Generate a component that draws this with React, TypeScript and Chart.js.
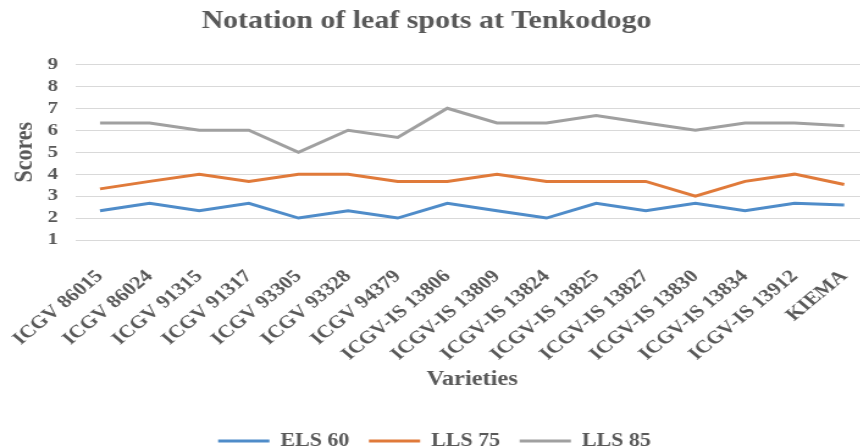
import React, { useEffect, useRef } from "react";
import { Chart, registerables } from "chart.js";

Chart.register(...registerables);

const categories = [
  "ICGV 86015",
  "ICGV 86024",
  "ICGV 91315",
  "ICGV 91317",
  "ICGV 93305",
  "ICGV 93328",
  "ICGV 94379",
  "ICGV-IS 13806",
  "ICGV-IS 13809",
  "ICGV-IS 13824",
  "ICGV-IS 13825",
  "ICGV-IS 13827",
  "ICGV-IS 13830",
  "ICGV-IS 13834",
  "ICGV-IS 13912",
  "KIEMA",
];

const els60 = [2.33, 2.67, 2.33, 2.67, 2, 2.33, 2, 2.67, 2.33, 2, 2.67, 2.33, 2.67, 2.33, 2.67, 2.6];
const lls75 = [3.33, 3.67, 4, 3.67, 4, 4, 3.67, 3.67, 4, 3.67, 3.67, 3.67, 3, 3.67, 4, 3.53];
const lls85 = [6.33, 6.33, 6, 6, 5, 6, 5.67, 7, 6.33, 6.33, 6.67, 6.33, 6, 6.33, 6.33, 6.2];

const seriesNames = ["ELS 60", "LLS 75", "LLS 85"];
const seriesColors = ["#4F8CC9", "#E07A3A", "#A0A0A0"];

const titleText = "Notation of leaf spots at Tenkodogo";
const yTitle = "Scores";
const xTitle = "Varieties";
const yMin = 1;
const yMax = 9;
const yStep = 1;

const STRETCH = 1.22;
const LOGICAL_W = 712;
const LOGICAL_H = 448;
const FONT = '"Liberation Serif", "Times New Roman", serif';
const TEXT = "#595959";

const titleShift = {
  id: "titleShift",
  afterLayout(chart: any) {
    const t = chart.titleBlock;
    if (t) {
      t.right -= 13;
      t.width -= 13;
    }
  },
};

export default function App() {
  const ref = useRef<HTMLCanvasElement | null>(null);

  useEffect(() => {
    if (!ref.current) return;
    const values = [els60, lls75, lls85];
    const chart = new Chart(ref.current, {
      type: "line",
      data: {
        labels: categories,
        datasets: values.map((v, i) => ({
          label: seriesNames[i],
          data: v,
          borderColor: seriesColors[i],
          backgroundColor: seriesColors[i],
          borderWidth: 3,
          pointRadius: 0,
          pointHoverRadius: 0,
          tension: 0,
          fill: false,
        })),
      },
      plugins: [titleShift],
      options: {
        responsive: false,
        animation: false,
        devicePixelRatio: 1,
        layout: { padding: { top: 0, left: 0, right: 0, bottom: -12 } },
        plugins: {
          tooltip: { enabled: false },
          title: {
            display: true,
            text: titleText,
            color: TEXT,
            font: { family: FONT, size: 24.5, weight: "bold" },
            padding: { top: 7, bottom: 28 },
          },
          legend: {
            position: "bottom",
            labels: {
              usePointStyle: true,
              pointStyle: "line",
              pointStyleWidth: 42,
              color: TEXT,
              font: { family: FONT, size: 18, weight: "bold" },
              padding: 16,
            },
          },
        },
        scales: {
          x: {
            offset: true,
            grid: { display: false, drawTicks: false },
            border: { display: false },
            ticks: {
              autoSkip: false,
              maxRotation: 45,
              minRotation: 45,
              padding: 26,
              color: TEXT,
              font: { family: FONT, size: 18, weight: "bold" },
            },
            title: {
              display: true,
              text: xTitle,
              color: TEXT,
              font: { family: FONT, size: 20, weight: "bold" },
              padding: { top: 0, bottom: 24 },
            },
            afterFit: (scale: any) => {
              scale.height = 176;
              scale.paddingLeft = 0;
              scale.paddingRight = 0;
            },
          },
          y: {
            min: yMin,
            max: yMax,
            grid: { color: "#D9D9D9", lineWidth: 1, drawTicks: false },
            border: { display: false },
            ticks: {
              stepSize: yStep,
              autoSkip: false,
              padding: 14,
              color: TEXT,
              font: { family: FONT, size: 17, weight: "bold", lineHeight: 1 },
            },
            title: {
              display: true,
              text: yTitle,
              color: TEXT,
              font: { family: FONT, size: 22, weight: "bold" },
              padding: { top: 7, bottom: 0 },
            },
            afterFit: (scale: any) => {
              scale.width = 61.6;
            },
          },
        },
      },
    } as any);
    return () => chart.destroy();
  }, []);

  return (
    <div
      style={{
        position: "absolute",
        left: 0,
        top: 0,
        width: 860,
        height: 448,
        overflow: "hidden",
        background: "#fff",
      }}
    >
      <canvas
        ref={ref}
        width={LOGICAL_W}
        height={LOGICAL_H}
        style={{
          display: "block",
          width: `${LOGICAL_W * STRETCH}px`,
          height: `${LOGICAL_H}px`,
        }}
      />
    </div>
  );
}
